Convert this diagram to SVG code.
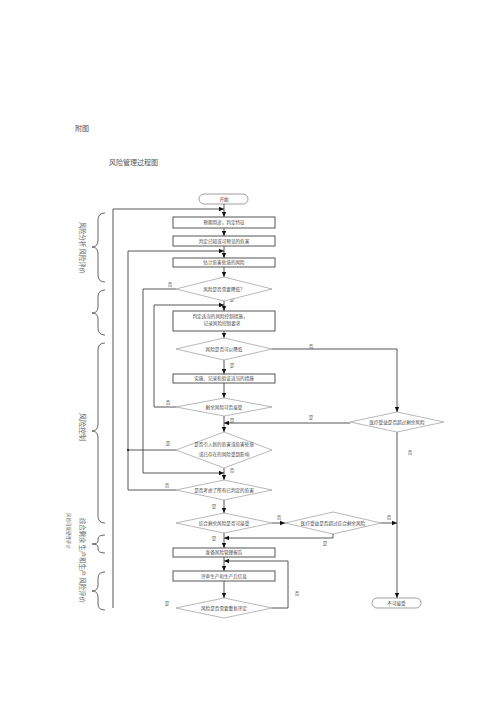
<svg xmlns="http://www.w3.org/2000/svg" width="500" height="707" viewBox="0 0 500 707">
<style>
text{font-family:"Noto Sans CJK SC","Noto Sans",sans-serif;fill:#444;}
.t{font-size:4.6px;text-anchor:middle;}
.l{font-size:4.6px;text-anchor:middle;fill:#555;}
.box{fill:#fff;stroke:#555;stroke-width:1;}
.dia{fill:#fff;stroke:#888;stroke-width:0.6;}
.term{fill:#fff;stroke:#777;stroke-width:0.7;}
.c{fill:none;stroke:#444;stroke-width:0.9;}
.br{fill:none;stroke:#555;stroke-width:0.9;}
.side{font-size:6.3px;fill:#666;}
</style>
<defs>
<marker id="ah" markerWidth="6" markerHeight="6" refX="5" refY="3" orient="auto" markerUnits="userSpaceOnUse">
<path d="M0,0.8 L5,3 L0,5.2 Z" fill="#111"/>
</marker>
</defs>
<text x="75" y="131" style="font-size:7px;fill:#555">附图</text>
<text x="109" y="165" style="font-size:7px;fill:#555">风险管理过程图</text>

<g id="connectors">
<path class="c" d="M224,204 V217" marker-end="url(#ah)"/>
<path class="c" d="M113,608 V209 H224" marker-end="url(#ah)"/>
<path class="c" d="M224,228 V236" marker-end="url(#ah)"/>
<path class="c" d="M224,246 V258" marker-end="url(#ah)"/>
<path class="c" d="M176,490 H128 V251 H224" marker-end="url(#ah)"/>
<path class="c" d="M224,267 V277" marker-end="url(#ah)"/>
<path class="c" d="M176,289 H143 V473 H224" marker-end="url(#ah)"/>
<path class="c" d="M224,301 V311" marker-end="url(#ah)"/>
<path class="c" d="M176,407 H154 V305 H224" marker-end="url(#ah)"/>
<path class="c" d="M224,331 V338" marker-end="url(#ah)"/>
<path class="c" d="M272,349 H397 V412" marker-end="url(#ah)"/>
<path class="c" d="M224,360 V374" marker-end="url(#ah)"/>
<path class="c" d="M224,383 V398" marker-end="url(#ah)"/>
<path class="c" d="M224,416 V432" marker-end="url(#ah)"/>
<path class="c" d="M350,423 H224" marker-end="url(#ah)"/>
<path class="c" d="M397,432 V598" marker-end="url(#ah)"/>
<path class="c" d="M176,450 H128"/>
<circle cx="128" cy="450" r="1" fill="#111"/>
<path class="c" d="M224,468 V480" marker-end="url(#ah)"/>
<path class="c" d="M224,500 V513" marker-end="url(#ah)"/>
<path class="c" d="M272,523 H285" marker-end="url(#ah)"/>
<path class="c" d="M381,523 H397" marker-end="url(#ah)"/>
<path class="c" d="M333,534 V538 H224" marker-end="url(#ah)"/>
<path class="c" d="M224,533 V548" marker-end="url(#ah)"/>
<path class="c" d="M224,557 V571" marker-end="url(#ah)"/>
<path class="c" d="M272,608 H288 V561 H224" marker-end="url(#ah)"/>
<path class="c" d="M224,581 V598" marker-end="url(#ah)"/>
</g>

<g id="labels">
<text class="l" x="170" y="286">否</text>
<text class="l" x="232" y="301">是</text>
<text class="l" x="311" y="348">否</text>
<text class="l" x="232" y="367">是</text>
<text class="l" x="168" y="404">否</text>
<text class="l" x="232" y="422">是</text>
<text class="l" x="311" y="419">是</text>
<text class="l" x="410" y="454">否</text>
<text class="l" x="168" y="445">是</text>
<text class="l" x="232" y="472">否</text>
<text class="l" x="167" y="487">否</text>
<text class="l" x="214" y="508">是</text>
<text class="l" x="279" y="519">否</text>
<text class="l" x="389" y="519">否</text>
<text class="l" x="325" y="545">是</text>
<text class="l" x="214" y="540">是</text>
<text class="l" x="297" y="595">否</text>
<text class="l" x="167" y="605">是</text>
</g>

<g id="start"><rect class="term" x="199" y="194" width="49" height="10" rx="5"/><text class="t" x="224" y="200.6">开始</text></g>
<g id="n1"><rect class="box" x="173" y="217" width="102" height="11"/><text class="t" x="224" y="224.2">预期用途，判定特征</text></g>
<g id="n2"><rect class="box" x="173" y="236" width="102" height="10"/><text class="t" x="224" y="242.6">判定已知或可预见的危害</text></g>
<g id="n3"><rect class="box" x="173" y="258" width="102" height="9"/><text class="t" x="224" y="264.2">估计危害处境的风险</text></g>
<g id="d1"><polygon class="dia" points="224,277 272,289 224,301 176,289"/><text class="t" x="224" y="290.6">风险是否需要降低？</text></g>
<g id="n4"><rect class="box" x="173" y="311" width="102" height="20"/><text class="t" x="220" y="317.5">判定适当的风险控制措施，</text><text class="t" x="222" y="324.5">记录风险控制要求</text></g>
<g id="d2"><polygon class="dia" points="224,338 272,349 224,360 176,349"/><text class="t" x="224" y="350.6">风险是否可以降低</text></g>
<g id="n5"><rect class="box" x="173" y="374" width="102" height="9"/><text class="t" x="224" y="380.2">实施、记录和验证适当的措施</text></g>
<g id="d3"><polygon class="dia" points="224,398 272,407 224,416 176,407"/><text class="t" x="224" y="408.6">剩余风险可否接受</text></g>
<g id="d4"><polygon class="dia" points="397,412 444,422 397,432 350,422"/><text class="t" x="397" y="423.6">医疗受益是否超过剩余风险</text></g>
<g id="d5"><polygon class="dia" points="224,432 272,450 224,468 176,450"/><text class="t" x="224" y="446">是否引入新的危害或危害处境</text><text class="t" x="224" y="456">或已存在的风险受到影响</text></g>
<g id="d6"><polygon class="dia" points="224,480 272,490 224,500 176,490"/><text class="t" x="224" y="491.6">是否考虑了所有已判定的危害</text></g>
<g id="d7"><polygon class="dia" points="224,513 272,523 224,533 176,523"/><text class="t" x="224" y="524.6">综合剩余风险是否可接受</text></g>
<g id="d8"><polygon class="dia" points="333,512 381,523 333,534 285,523"/><text class="t" x="333" y="524.6">医疗受益是否超过综合剩余风险</text></g>
<g id="n6"><rect class="box" x="173" y="548" width="102" height="9"/><text class="t" x="224" y="554.2">准备风险管理报告</text></g>
<g id="n7"><rect class="box" x="173" y="571" width="102" height="10"/><text class="t" x="224" y="577.6">评审生产和生产后信息</text></g>
<g id="d9"><polygon class="dia" points="224,598 272,608 224,618 176,608"/><text class="t" x="224" y="609.6">风险是否需要重新评定</text></g>
<g id="end"><rect class="term" x="372" y="598" width="49" height="10" rx="5"/><text class="t" x="396.5" y="604.6">不可接受</text></g>

<g id="braces">
<path class="br" d="M105,213 Q98,213 98,220 V240 Q98,247 92,247 Q98,247 98,254 V275 Q98,282 105,282"/>
<path class="br" d="M105,290 Q98,290 98,297 V307 Q98,313 92,313 Q98,313 98,319 V328 Q98,335 105,335"/>
<path class="br" d="M105,343 Q98,343 98,350 V424 Q98,431 92,431 Q98,431 98,438 V516 Q98,523 105,523"/>
<path class="br" d="M105,535 Q98,535 98,539 V541 Q98,544 92,544 Q98,544 98,547 V549 Q98,553 105,553"/>
<path class="br" d="M105,572 Q98,572 98,578 V585 Q98,591 92,591 Q98,591 98,597 V604 Q98,610 105,610"/>
</g>
<g id="side-labels">
<text class="side" transform="translate(80,222) rotate(90)">风险分析 风险评价</text>
<text class="side" transform="translate(80,413) rotate(90)" style="font-size:7px">风险控制</text>
<text class="side" transform="translate(80,518) rotate(90)">综合剩余 生产和生产 风险评价</text>
<text class="side" transform="translate(67,513) rotate(90)" style="font-size:4.5px">风险可接受性评价</text>
</g>
</svg>
